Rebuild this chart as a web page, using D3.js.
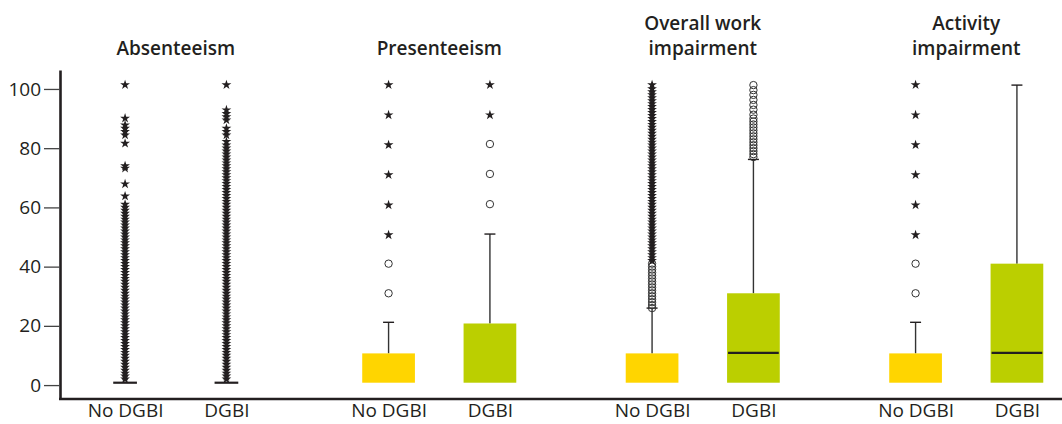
<!DOCTYPE html>
<html>
<head>
<meta charset="utf-8">
<script src="https://cdn.jsdelivr.net/npm/d3@7"></script>
<style>
  body { margin: 0; background: #fff; }
  text { font-family: "Open Sans", sans-serif; fill: #231f20; }
</style>
</head>
<body>
<div id="chart"></div>
<script>
// categories
const groups = ["Absenteeism", "Presenteeism", "Overall work impairment", "Activity impairment"];
const titleLines = [["Absenteeism"], ["Presenteeism"], ["Overall work", "impairment"], ["Activity", "impairment"]];
const subgroups = ["No DGBI", "DGBI"];
const yTicks = [0, 20, 40, 60, 80, 100];

// box stats, one entry per box: Abs No/DGBI, Pres No/DGBI, Overall No/DGBI, Activity No/DGBI
const q1Values     = [0.8, 0.8, 0.8, 0.8, 0.8, 0.8, 0.8, 0.8];
const medianValues = [0.8, 0.8, 0.8, 0.8, 0.8, 10.9, 0.8, 10.9];
const q3Values     = [0.8, 0.8, 10.7, 20.8, 10.7, 31.0, 10.7, 41.0];
const whiskerTop   = [0.8, 0.8, 21.2, 51.0, 26.0, 76.2, 21.2, 101.3];

// outliers (circles = mild, stars = extreme)
const circleOutliers = [
  [],
  [],
  [31.0, 41.0],
  [61.1, 71.3, 81.4],
  [26, 27, 28, 29, 30, 31, 32, 33, 34, 35, 36, 37, 38, 39, 40, 41],
  [77, 78, 79, 80, 81, 82, 83, 84, 85, 86, 87, 88, 89, 90, 91.3, 93.0, 94.6, 96.3, 98.0, 99.6, 101.3],
  [31.0, 41.0],
  []
];
const starOutliers = [
  [2, 3, 4, 5, 6, 7, 8, 9, 10, 11, 12, 13, 14, 15, 16, 17, 18, 19, 20, 21, 22, 23, 24, 25, 26, 27, 28, 29, 30,
   31, 32, 33, 34, 35, 36, 37, 38, 39, 40, 41, 42, 43, 44, 45, 46, 47, 48, 49, 50, 51, 52, 53, 54, 55, 56, 57,
   58, 59, 60, 61, 63.8, 67.9, 73.2, 74.0, 81.6, 84.4, 85.6, 86.7, 87.8, 90.1, 101.4],
  [2, 3, 4, 5, 6, 7, 8, 9, 10, 11, 12, 13, 14, 15, 16, 17, 18, 19, 20, 21, 22, 23, 24, 25, 26, 27, 28, 29, 30,
   31, 32, 33, 34, 35, 36, 37, 38, 39, 40, 41, 42, 43, 44, 45, 46, 47, 48, 49, 50, 51, 52, 53, 54, 55, 56, 57,
   58, 59, 60, 61, 62, 63, 64, 65, 66, 67, 68, 69, 70, 71, 72, 73, 74, 75, 76, 77, 78, 79, 80, 81, 82.2,
   84.4, 85.6, 86.7, 89.5, 90.6, 91.7, 92.9, 101.4],
  [50.7, 60.8, 71.0, 81.1, 91.2, 101.4],
  [91.2, 101.4],
  [42, 43, 44, 45, 46, 47, 48, 49, 50, 51, 52, 53, 54, 55, 56, 57, 58, 59, 60, 61, 62, 63, 64, 65, 66, 67, 68,
   69, 70, 71, 72, 73, 74, 75, 76, 77, 78, 79, 80, 81, 82, 83, 84, 85, 86, 87, 88, 89, 90, 91, 92, 93, 94, 95,
   96, 97, 98, 99, 100, 101.4],
  [],
  [50.7, 60.8, 71.0, 81.1, 91.2, 101.4],
  []
];

const boxColors = {"No DGBI": "#ffd500", "DGBI": "#bbcf00"};

// dimensions
const width = 1062, height = 424;
const svg = d3.select("#chart")
  .append("svg")
  .attr("width", width)
  .attr("height", height);

// scales
const x = d3.scaleBand()
  .domain(groups)
  .range([44, 1098]);

const xSub = d3.scalePoint()
  .domain(subgroups)
  .range([0, x.bandwidth()])
  .padding(0.8);

const y = d3.scaleLinear()
  .domain([-4.7, 106.4])
  .range([399, 70]);

const boxWidth = xSub.step() * 0.52;
const capWidth = 11;

// build the per-box table from the arrays
const boxes = [];
groups.forEach(function(g, gi) {
  subgroups.forEach(function(s, si) {
    const i = gi * 2 + si;
    boxes.push({
      group: g, sub: s,
      cx: x(g) + xSub(s),
      q1: q1Values[i], median: medianValues[i], q3: q3Values[i], top: whiskerTop[i],
      circles: circleOutliers[i], stars: starOutliers[i]
    });
  });
});

// y axis
const yAxis = svg.append("g")
  .attr("transform", "translate(60,0)")
  .call(d3.axisLeft(y).tickValues(yTicks).tickSize(16).tickSizeOuter(0).tickPadding(3));
yAxis.select(".domain").attr("stroke", "#231f20").attr("stroke-width", 2.6);
yAxis.selectAll(".tick line").attr("stroke", "#444").attr("stroke-width", 1.3);
yAxis.selectAll(".tick text")
  .style("font-family", "'Open Sans', sans-serif")
  .style("font-size", "19px")
  .attr("fill", "#231f20");

// baseline
svg.append("line")
  .attr("x1", 59).attr("x2", width)
  .attr("y1", y.range()[0]).attr("y2", y.range()[0])
  .attr("stroke", "#231f20")
  .attr("stroke-width", 2.6);

// subgroup labels under each group
groups.forEach(function(g) {
  const ax = svg.append("g")
    .attr("transform", "translate(" + x(g) + "," + (y.range()[0] + 1) + ")")
    .call(d3.axisBottom(xSub).tickSize(0).tickPadding(3));
  ax.select(".domain").remove();
  ax.selectAll(".tick text")
    .style("font-family", "'Open Sans', sans-serif")
    .style("font-size", "19px")
    .attr("fill", "#231f20");
});

// group titles
groups.forEach(function(g, gi) {
  const lines = titleLines[gi];
  const t = svg.append("text")
    .attr("text-anchor", "middle")
    .style("font-size", "19px")
    .style("font-weight", 600);
  lines.forEach(function(line, li) {
    t.append("tspan")
      .attr("x", x(g) + x.bandwidth() / 2)
      .attr("y", 55 - (lines.length - 1 - li) * 25)
      .text(line);
  });
});

const box = svg.append("g")
  .selectAll(".box")
  .data(boxes)
  .enter().append("g")
  .attr("class", "box");

// whiskers
box.filter(function(d) { return d.top > d.q3; })
  .append("line")
  .attr("x1", function(d) { return d.cx; })
  .attr("x2", function(d) { return d.cx; })
  .attr("y1", function(d) { return y(d.q3); })
  .attr("y2", function(d) { return y(d.top); })
  .attr("stroke", "#333")
  .attr("stroke-width", 1.4);

box.append("line")
  .attr("x1", function(d) { return d.cx - (d.q3 > d.q1 ? capWidth : boxWidth * 0.45) / 2; })
  .attr("x2", function(d) { return d.cx + (d.q3 > d.q1 ? capWidth : boxWidth * 0.45) / 2; })
  .attr("y1", function(d) { return y(d.top); })
  .attr("y2", function(d) { return y(d.top); })
  .attr("stroke", "#231f20")
  .attr("stroke-width", function(d) { return d.q3 > d.q1 ? 1.4 : 2.2; });

// boxes
box.filter(function(d) { return d.q3 > d.q1; })
  .append("rect")
  .attr("x", function(d) { return d.cx - boxWidth / 2; })
  .attr("width", boxWidth)
  .attr("y", function(d) { return y(d.q3); })
  .attr("height", function(d) { return y(d.q1) - y(d.q3); })
  .attr("fill", function(d) { return boxColors[d.sub]; });

// medians
box.filter(function(d) { return d.median > d.q1; })
  .append("line")
  .attr("x1", function(d) { return d.cx - boxWidth / 2 + 1; })
  .attr("x2", function(d) { return d.cx + boxWidth / 2 - 1; })
  .attr("y1", function(d) { return y(d.median); })
  .attr("y2", function(d) { return y(d.median); })
  .attr("stroke", "#231f20")
  .attr("stroke-width", 2.2);

// circle outliers
box.selectAll(".circ")
  .data(function(d) { return d.circles.map(function(v) { return {cx: d.cx, v: v}; }); })
  .enter().append("circle")
  .attr("cx", function(d) { return d.cx; })
  .attr("cy", function(d) { return y(d.v); })
  .attr("r", 3.7)
  .attr("fill", "none")
  .attr("stroke", "#333")
  .attr("stroke-width", 1);

// star outliers
const star = d3.symbol().type(d3.symbolStar).size(30);
box.selectAll(".star")
  .data(function(d) { return d.stars.map(function(v) { return {cx: d.cx, v: v}; }); })
  .enter().append("path")
  .attr("d", star)
  .attr("transform", function(d) { return "translate(" + d.cx + "," + y(d.v) + ")"; })
  .attr("fill", "#231f20");
</script>
</body>
</html>
